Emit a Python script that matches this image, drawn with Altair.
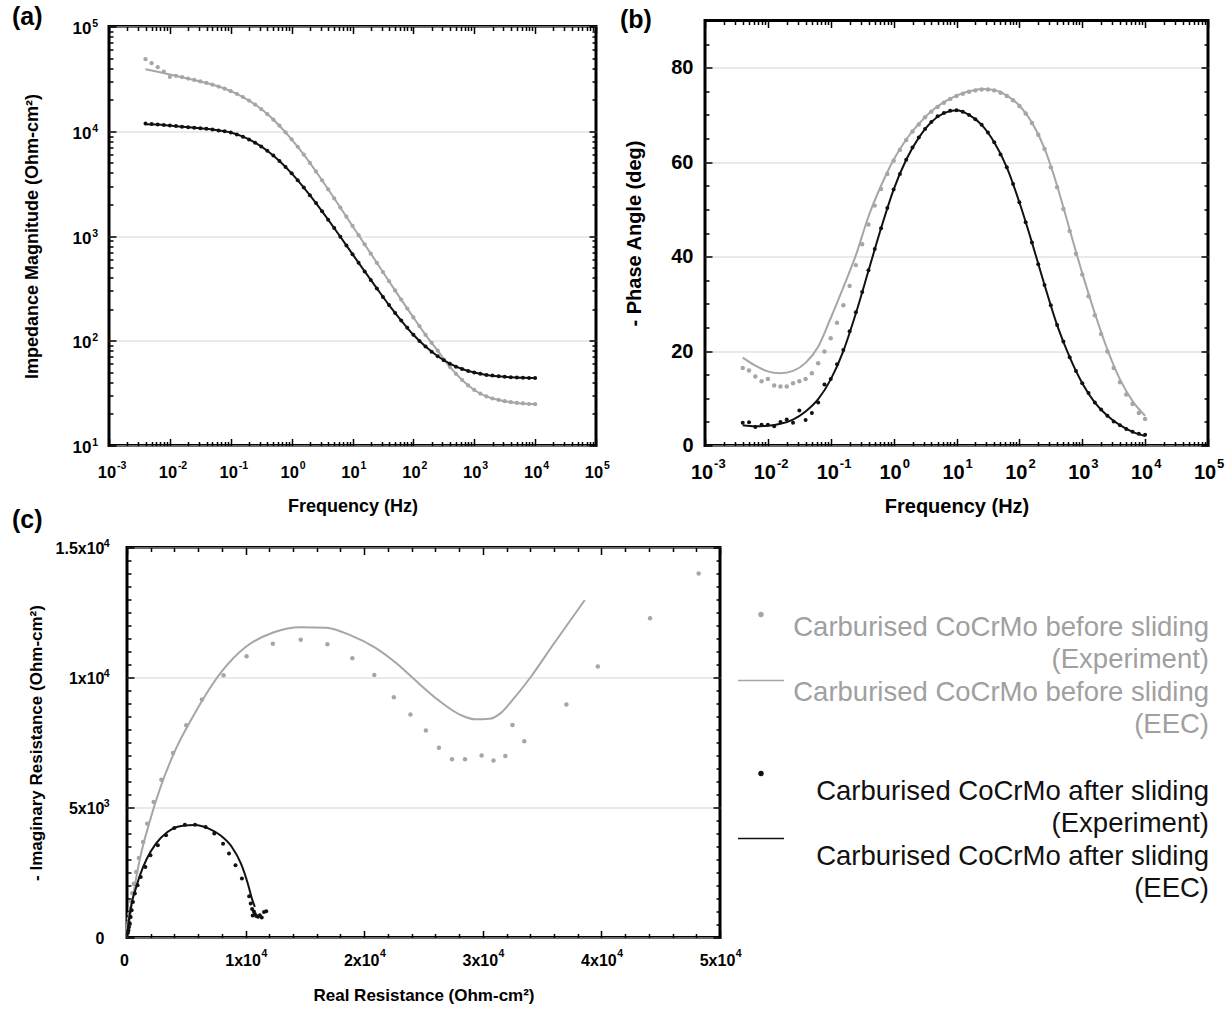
import altair as alt
import pandas as pd

FONT = "Liberation Sans"
GRAY = "#a6a6a6"
GRAY_TXT = "#a0a0a0"
BLACK = "#111111"
GRID = "#d6d6d6"

# ---------------- data ----------------
freq = [0.003981, 0.005012, 0.00631, 0.007943, 0.01, 0.01259, 0.01585, 0.01995, 0.02512, 0.03162,
        0.03981, 0.05012, 0.0631, 0.07943, 0.1, 0.1259, 0.1585, 0.1995, 0.2512, 0.3162,
        0.3981, 0.5012, 0.631, 0.7943, 1.0, 1.259, 1.585, 1.995, 2.512, 3.162,
        3.981, 5.012, 6.31, 7.943, 10.0, 12.59, 15.85, 19.95, 25.12, 31.62,
        39.81, 50.12, 63.1, 79.43, 100.0, 125.9, 158.5, 199.5, 251.2, 316.2,
        398.1, 501.2, 631.0, 794.3, 1000.0, 1259.0, 1585.0, 1995.0, 2512.0, 3162.0,
        3981.0, 5012.0, 6310.0, 7943.0, 10000.0]

z_before = [48750, 44670, 40930, 37150, 32960, 33810, 32810, 31840, 30900, 29920,
            28910, 27860, 26730, 25470, 24150, 22750, 21230, 19630, 17990, 16290,
            14590, 12910, 11300, 9772, 8375, 7112, 5984, 4989, 4130, 3404,
            2793, 2286, 1871, 1528, 1247, 1019, 832, 679, 555, 453,
            370, 302, 247, 203, 167, 138, 114, 95.5, 80.4, 66.1,
            56.2, 48.4, 42.2, 37.4, 33.9, 31.3, 29.4, 28.1, 27.2, 26.5,
            25.9, 25.5, 25.2, 24.9, 24.8]

z_after = [11885, 11722, 11588, 11455, 11324, 11194, 11066, 10940, 10814, 10691,
           10544, 10375, 10186, 9977, 9727, 9333, 8872, 8356, 7780, 7161,
           6516, 5861, 5200, 4560, 3963, 3404, 2897, 2449, 2061, 1722,
           1432, 1189, 984, 813, 671, 555, 459, 380, 316, 262,
           219, 184, 156, 133, 114, 99.5, 87.9, 78.5, 71.1, 65.2,
           60.4, 56.6, 53.7, 51.4, 49.7, 48.3, 47.2, 46.5, 45.8, 45.3,
           44.9, 44.6, 44.4, 44.2, 44.1]

ph_before = [16.4, 15.9, 14.6, 13.6, 14.1, 12.7, 12.5, 12.5, 13.2, 13.6,
             14.1, 15.3, 17.4, 19.9, 22.7, 26.0, 29.7, 33.8, 38.2, 42.6,
             46.8, 50.8, 54.3, 57.5, 60.3, 62.6, 64.7, 66.5, 68.0, 69.5,
             70.7, 71.7, 72.6, 73.4, 74.0, 74.5, 74.9, 75.2, 75.4, 75.4,
             75.2, 74.7, 74.0, 73.1, 71.9, 70.3, 68.3, 65.8, 62.8, 58.9,
             54.7, 50.1, 45.4, 40.6, 36.2, 31.6, 27.6, 23.6, 19.9, 16.4,
             13.4, 10.8, 8.8, 6.9, 5.6]

ph_after = [4.8, 4.9, 3.9, 4.4, 4.4, 4.1, 5.0, 5.5, 4.8, 7.4,
            5.4, 6.9, 9.1, 12.9, 14.1, 17.2, 20.2, 24.2, 28.2, 32.5,
            37.1, 41.6, 46.0, 50.3, 54.2, 57.5, 60.5, 63.1, 65.2, 67.0,
            68.5, 69.7, 70.4, 70.9, 71.0, 70.7, 70.0, 69.1, 67.9, 66.3,
            64.2, 61.6, 58.9, 55.4, 51.5, 47.3, 43.0, 38.4, 34.0, 29.7,
            25.5, 22.0, 18.7, 15.8, 13.2, 11.1, 9.1, 7.6, 6.3, 5.1,
            4.3, 3.5, 2.9, 2.5, 2.3]

freq_fit = [0.003981, 0.00631, 0.01, 0.01585, 0.02512, 0.03981, 0.0631, 0.1, 0.1585, 0.2512,
            0.3981, 0.631, 1.0, 1.585, 2.512, 3.981, 6.31, 10.0, 15.85, 25.12,
            39.81, 63.1, 100.0, 158.5, 251.2, 398.1, 631.0, 1000.0, 1585.0, 2512.0,
            3981.0, 6310.0, 10000.0]

z_before_fit = [39000, 36900, 34800, 32810, 30900, 28910, 26730, 24150, 21230, 17990,
                14590, 11300, 8375, 5984, 4130, 2793, 1871, 1247, 832, 555,
                370, 247, 167, 114, 80.4, 56.2, 42.2, 33.9, 29.4, 27.2,
                25.9, 25.2, 24.8]

z_after_fit = [11650, 11588, 11324, 11066, 10814, 10544, 10186, 9727, 8872, 7780,
               6516, 5200, 3963, 2897, 2061, 1432, 984, 671, 459, 316,
               219, 156, 114, 87.9, 71.1, 60.4, 53.7, 49.7, 47.2, 45.8,
               44.9, 44.4, 44.1]

ph_before_fit = [18.6, 16.9, 15.7, 15.3, 15.8, 17.5, 20.9, 27.0, 33.5, 40.3,
                 48.5, 55.0, 60.5, 64.8, 68.1, 70.8, 72.7, 74.1, 75.0, 75.5,
                 75.3, 74.1, 72.0, 68.4, 62.9, 55.0, 45.7, 36.5, 28.0, 20.3,
                 14.0, 9.4, 6.3]

ph_after_fit = [4.3, 4.1, 4.2, 4.6, 5.5, 7.2, 9.8, 14.0, 20.0, 28.0,
                37.0, 46.0, 54.2, 60.5, 65.2, 68.5, 70.4, 71.0, 70.0, 67.9,
                64.2, 58.9, 51.5, 43.0, 34.0, 25.5, 18.7, 13.2, 9.1, 6.3,
                4.3, 2.9, 2.0]

re_before = [48200, 44100, 39700, 37050, 33500, 32500, 31900, 30900, 29900, 28500,
             27400, 26300, 25200, 23900, 22500, 20850, 19000, 16900, 14650, 12300,
             10080, 8140, 6320, 5000, 3880, 2900, 2250, 1700, 1360, 1000,
             780, 580, 450, 350, 270, 200, 150, 120, 90, 70, 50, 40]
im_before = [14000, 12280, 10420, 8960, 7550, 8170, 6980, 6810, 7000, 6860,
             6860, 7300, 7960, 8580, 9240, 10100, 10740, 11280, 11450, 11300,
             10820, 10090, 9150, 8160, 7100, 6070, 5210, 4380, 3670, 3060,
             2520, 2070, 1700, 1380, 1120, 900, 720, 580, 460, 360, 280, 200]

re_after = [11740, 11550, 11360, 11200, 11050, 10900, 10780, 10700, 10600, 10550,
            10430, 10300, 9690, 9150, 8600, 8100, 7360, 6630, 5740, 4880,
            3990, 3290, 2600, 1980, 1550, 1160, 890, 660, 500, 390,
            310, 230, 170, 120, 80]
im_after = [1010, 980, 770, 860, 800, 830, 900, 1000, 850, 1100,
            1310, 1590, 2270, 2780, 3230, 3610, 4000, 4250, 4340, 4340,
            4210, 3930, 3550, 3160, 2710, 2330, 2010, 1690, 1370, 1050,
            790, 550, 400, 280, 180]

re_before_fit = [0, 500, 1090, 1860, 2830, 4190, 5540, 6510, 8060, 10000,
                 12330, 14650, 16780, 18910, 20850, 22790, 24340, 26280, 28220, 29380,
                 30540, 31510, 32480, 34030, 35970, 38600]
im_before_fit = [0, 1560, 3030, 4380, 5790, 7320, 8480, 9240, 10270, 11170,
                 11730, 11930, 11910, 11610, 11170, 10520, 9880, 9120, 8540, 8390,
                 8410, 8630, 9120, 10010, 11290, 12980]

re_after_fit = [0, 160, 390, 700, 1090, 1670, 2440, 3410, 4570, 5740,
                6900, 7870, 8840, 9610, 10190, 10580, 10780]
im_after_fit = [0, 670, 1310, 1820, 2390, 3030, 3610, 4060, 4290, 4330,
                4190, 3930, 3480, 2840, 2070, 1430, 1180]

legend_labels = ["Carburised CoCrMo before sliding\n(Experiment)",
                 "Carburised CoCrMo before sliding\n(EEC)",
                 "Carburised CoCrMo after sliding\n(Experiment)",
                 "Carburised CoCrMo after sliding\n(EEC)"]

# tick values / labels (mantissa + raised exponent, as in the reference)
freq_major = [1e-3, 1e-2, 1e-1, 1e0, 1e1, 1e2, 1e3, 1e4, 1e5]
freq_exp = ["-3", "-2", "-1", "0", "1", "2", "3", "4", "5"]
freq_minor = [m * 10.0 ** e for e in range(-3, 5) for m in range(2, 10)]
z_major = [1e1, 1e2, 1e3, 1e4, 1e5]
z_exp = ["1", "2", "3", "4", "5"]
z_minor = [m * 10.0 ** e for e in range(1, 5) for m in range(2, 10)]
ph_major = [0, 20, 40, 60, 80]
ph_minor = [v for v in range(5, 90, 5) if v % 20]
re_major = [0, 10000, 20000, 30000, 40000, 50000]
re_base = ["0", "1x10", "2x10", "3x10", "4x10", "5x10"]
re_exp = ["", "4", "4", "4", "4", "4"]
re_minor = [v for v in range(0, 50001, 2000) if v % 10000]
im_major = [0, 5000, 10000, 15000]
im_base = ["0", "5x10", "1x10", "1.5x10"]
im_exp = ["", "3", "4", "4"]
im_minor = [v for v in range(0, 15001, 500) if v % 5000]

IDX_LOG_F = "round(log(datum.value)/LN10)+3"
IDX_LOG_Z = "round(log(datum.value)/LN10)-1"


def arr_expr(labels, idx):
    return "[" + ",".join("'" + s + "'" for s in labels) + "][" + idx + "]"


def tick_axis(orient, values, size):
    return alt.Axis(orient=orient, values=values, labels=False, domain=False, grid=False,
                    ticks=True, tickSize=size, tickWidth=1.5, tickColor="black",
                    offset=-size, title=None, minExtent=0, maxExtent=0)


def text_axis(orient, values, expr, lsize, lpad, off=0, title=None, tsize=18,
              tx=0, ty=0, grid=False):
    kw = dict(orient=orient, values=values, ticks=False, domain=False, grid=grid,
              gridColor=GRID, gridWidth=1.2, labelFont=FONT, labelFontSize=lsize,
              labelFontWeight="bold", labelColor="black", labelPadding=lpad,
              labelOverlap=False, labelFlush=False, labelOffset=off, minExtent=0,
              title=title, titleFont=FONT, titleFontSize=tsize, titleFontWeight="bold",
              titleColor="black", titleX=tx, titleY=ty, titleAlign="center",
              titleBaseline="middle")
    if expr:
        kw["labelExpr"] = expr
    if orient == "bottom":
        kw["labelBaseline"] = "top"
        kw["labelAlign"] = "center"
    else:
        kw["labelAlign"] = "right"
        kw["labelBaseline"] = "middle"
        kw["titleAngle"] = 270
    return alt.Axis(**kw)


def exp_axis(orient, values, expr, lsize, lpad, off=0):
    kw = dict(orient=orient, values=values, labelExpr=expr, ticks=False, domain=False,
              grid=False, labelFont=FONT, labelFontSize=lsize, labelFontWeight="bold",
              labelColor="black", labelPadding=lpad, labelOverlap=False, labelFlush=False,
              labelOffset=off, minExtent=0, title=None)
    if orient == "bottom":
        kw["labelBaseline"] = "top"
        kw["labelAlign"] = "left"
    else:
        kw["labelBaseline"] = "middle"
        kw["labelAlign"] = "right"
    return alt.Axis(**kw)


def panel(xf, yf, xscale, yscale, pts1, line1, pts2, line2, xlab, ylab, xexp, yexp,
          xmaj, xmin, ymaj, ymin, w, h, tag, tag_x, tag_y, psize1, psize2):
    axes = [(xlab, ylab),
            (tick_axis("bottom", xmaj, 7), tick_axis("left", ymaj, 7)),
            (tick_axis("top", xmaj, 7), tick_axis("right", ymaj, 7)),
            (tick_axis("bottom", xmin, 4), tick_axis("left", ymin, 4)),
            (tick_axis("top", xmin, 4), tick_axis("right", ymin, 4)),
            (xexp, yexp)]
    marks = [alt.Chart(pts1).mark_circle(color=GRAY, size=psize1, opacity=1),
             alt.Chart(line1).mark_line(color=GRAY, strokeWidth=2, interpolate="monotone"),
             alt.Chart(pts2).mark_circle(color=BLACK, size=psize2, opacity=1),
             alt.Chart(line2).mark_line(color=BLACK, strokeWidth=2, interpolate="monotone"),
             alt.Chart(pts2).mark_circle(opacity=0, size=1),
             alt.Chart(pts2).mark_circle(opacity=0, size=1)]
    layers = []
    for m, (ax, ay) in zip(marks, axes):
        layers.append(m.encode(x=alt.X(f"{xf}:Q", scale=xscale, axis=ax),
                               y=alt.Y(f"{yf}:Q", scale=yscale, axis=ay)))
    # panel tag "(a)", "(b)", "(c)"
    layers.append(alt.Chart(pd.DataFrame({"t": [tag]}))
                  .mark_text(align="left", baseline="alphabetic", font=FONT, fontSize=25,
                             fontWeight="bold", color="black")
                  .encode(text="t:N", x=alt.value(tag_x), y=alt.value(tag_y)))
    return (alt.layer(*layers)
            .resolve_axis(x="independent", y="independent")
            .properties(width=w, height=h,
                        view=alt.ViewBackground(stroke="black", strokeWidth=3)))


def blank(w, h):
    return (alt.Chart(pd.DataFrame({"s": [0]})).mark_circle(opacity=0, size=1)
            .encode(x=alt.X("s:Q", axis=None), y=alt.Y("s:Q", axis=None))
            .properties(width=w, height=h, view=alt.ViewBackground(stroke="transparent")))


# ---------------- panel (a) ----------------
WA, HA = 487, 419
fscale = alt.Scale(type="log", domain=[1e-3, 1e5], nice=False)
zscale = alt.Scale(type="log", domain=[10, 1e5], nice=False)
chart_a = panel(
    "f", "v", fscale, zscale,
    pd.DataFrame({"f": freq, "v": z_before}), pd.DataFrame({"f": freq_fit, "v": z_before_fit}),
    pd.DataFrame({"f": freq, "v": z_after}), pd.DataFrame({"f": freq_fit, "v": z_after_fit}),
    text_axis("bottom", freq_major, "'10'", 16.5, 19, off=-2.5, title="Frequency (Hz)",
              tsize=18, tx=WA / 2, ty=61),
    text_axis("left", z_major, "'10'", 17, 18, off=2, title="Impedance Magnitude (Ohm-cm²)",
              tsize=18, tx=-77, ty=HA / 2, grid=True),
    exp_axis("bottom", freq_major, arr_expr(freq_exp, IDX_LOG_F), 10.5, 15, off=7.5),
    exp_axis("left", z_major, arr_expr(z_exp, IDX_LOG_Z), 10.5, 11.5, off=-3),
    freq_major, freq_minor, z_major, z_minor, WA, HA, "(a)", -97, -1.5, 18, 16)

# ---------------- panel (b) ----------------
WB, HB = 503, 425
fscale_b = alt.Scale(type="log", domain=[1e-3, 1e5], nice=False)
pscale = alt.Scale(domain=[0, 90], nice=False, zero=False)
chart_b = panel(
    "f", "v", fscale_b, pscale,
    pd.DataFrame({"f": freq, "v": ph_before}), pd.DataFrame({"f": freq_fit, "v": ph_before_fit}),
    pd.DataFrame({"f": freq, "v": ph_after}), pd.DataFrame({"f": freq_fit, "v": ph_after_fit}),
    text_axis("bottom", freq_major, "'10'", 20, 16.5, off=-3.5, title="Frequency (Hz)",
              tsize=20, tx=WB / 2, ty=61),
    text_axis("left", ph_major, None, 20, 12, title="- Phase Angle (deg)", tsize=20,
              tx=-71, ty=HB / 2, grid=True),
    exp_axis("bottom", freq_major, arr_expr(freq_exp, IDX_LOG_F), 13, 12, off=8.6),
    None,
    freq_major, freq_minor, ph_major, ph_minor, WB, HB, "(b)", -85, 7.5, 20, 16)

# ---------------- panel (c) ----------------
WC, HC = 593, 390
rscale = alt.Scale(domain=[0, 50000], nice=False)
iscale = alt.Scale(domain=[0, 15000], nice=False)
chart_c = panel(
    "re", "im", rscale, iscale,
    pd.DataFrame({"re": re_before, "im": im_before}),
    pd.DataFrame({"re": re_before_fit, "im": im_before_fit}),
    pd.DataFrame({"re": re_after, "im": im_after}),
    pd.DataFrame({"re": re_after_fit, "im": im_after_fit}),
    text_axis("bottom", re_major, arr_expr(re_base, "round(datum.value/10000)"), 16, 14.5,
              off=-3, title="Real Resistance (Ohm-cm²)", tsize=17, tx=WC / 2, ty=58),
    text_axis("left", im_major, arr_expr(im_base, "round(datum.value/5000)"), 16, 23, off=1,
              title="- Imaginary Resistance (Ohm-cm²)", tsize=17, tx=-91, ty=HC / 2,
              grid=True),
    exp_axis("bottom", re_major, arr_expr(re_exp, "round(datum.value/10000)"), 10.5, 11,
             off=15.3),
    exp_axis("left", im_major, arr_expr(im_exp, "round(datum.value/5000)"), 10.5, 18, off=-4),
    re_major, re_minor, im_major, im_minor, WC, HC, "(c)", -115, -19.5, 20, 16)

# ---------------- legend ----------------
LW = 472
leg_colors = [GRAY_TXT, GRAY_TXT, BLACK, BLACK]
leg_text_y = [80, 145.5, 244.5, 309.5]
leg_sym_y = [67, 133, 226, 291]
leg_layers = []
for lab, col, ty, sy, kind in zip(legend_labels, leg_colors, leg_text_y, leg_sym_y,
                                  ["pt", "ln", "pt", "ln"]):
    leg_layers.append(
        alt.Chart(pd.DataFrame({"t": [lab]}))
        .mark_text(align="right", baseline="middle", lineBreak="\n", lineHeight=32,
                   font=FONT, fontSize=27.5, color=col)
        .encode(text="t:N", x=alt.value(LW), y=alt.value(ty)))
    symcol = GRAY if col == GRAY_TXT else BLACK
    if kind == "pt":
        leg_layers.append(
            alt.Chart(pd.DataFrame({"t": [lab]})).mark_circle(color=symcol, size=30, opacity=1)
            .encode(x=alt.value(24), y=alt.value(sy)))
    else:
        leg_layers.append(
            alt.Chart(pd.DataFrame({"t": [lab]})).mark_rule(color=symcol, strokeWidth=1.5)
            .encode(x=alt.value(1), x2=alt.value(47), y=alt.value(sy)))
legend = alt.layer(*leg_layers).properties(
    width=LW, height=HC, view=alt.ViewBackground(stroke="transparent"))

# (a) sits 6 px lower than (b); the nested column counts as zero width in a flush row
col_a = alt.vconcat(blank(WA, 1), chart_a, spacing=5, bounds="flush")
row1 = alt.hconcat(col_a, chart_b, spacing=WA + 109, bounds="flush")
row2 = alt.hconcat(blank(1, HC), chart_c, legend, spacing=17, bounds="flush")
chart = (alt.vconcat(row1, row2, spacing=-12)
         .properties(padding={"left": 10, "top": 3.5, "right": 0, "bottom": 0},
                     background="white")
         .configure_view(stroke="transparent"))

chart.save("out.html", embed_options={"renderer": "svg", "actions": False})
